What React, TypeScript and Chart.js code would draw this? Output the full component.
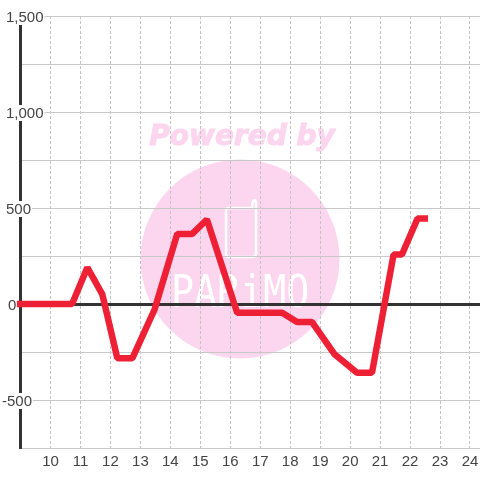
import React, { useEffect, useRef } from "react";
import { Chart, registerables } from "chart.js";

Chart.register(...registerables);

const hours = [8.88, 10.72, 11.23, 11.73, 12.23, 12.73, 13.47, 14.23, 14.73, 15.22, 16.23, 17.73, 18.23, 18.73, 19.47, 20.23, 20.73, 21.45, 21.73, 22.25, 22.6];
const values = [0, 0, 190, 50, -283, -283, -30, 365, 365, 440, -45, -45, -94, -94, -260, -358, -358, 258, 258, 445, 445];
const yTickValues = [1500, 1000, 500, 0, -500];
const xTickFirst = 10;
const seriesName = "Balance";
const watermarkTitle = "Powered by";
const watermarkBrand = "PARiMO";

const watermark = {
  id: "watermark",
  beforeDraw(chart: any) {
    const c = chart.ctx;
    c.save();
    c.fillStyle = "#ffffff";
    c.fillRect(0, 0, 480, 480);
    c.fillStyle = "#fcd5ee";
    c.beginPath();
    c.arc(240, 259, 99.5, 0, Math.PI * 2);
    c.fill();
    c.font = "italic bold 28px 'DejaVu Sans'";
    c.textAlign = "center";
    c.textBaseline = "alphabetic";
    c.strokeStyle = "#fcd5ee";
    c.lineWidth = 1;
    c.fillText(watermarkTitle, 242, 145);
    c.strokeText(watermarkTitle, 242, 145);
    c.strokeStyle = "#ffffff";
    c.lineWidth = 2.5;
    c.lineJoin = "round";
    c.beginPath();
    c.moveTo(252, 208);
    c.lineTo(253, 201);
    c.quadraticCurveTo(255, 199, 256, 202);
    c.lineTo(256, 254);
    c.quadraticCurveTo(256, 257, 253, 257);
    c.lineTo(229, 257);
    c.quadraticCurveTo(226, 257, 226, 254);
    c.lineTo(226, 211);
    c.quadraticCurveTo(226, 208, 229, 208);
    c.lineTo(252, 208);
    c.stroke();
    c.fillStyle = "#ffffff";
    c.font = "44px 'DejaVu Sans Mono'";
    c.textAlign = "left";
    c.translate(171, 307);
    c.scale(0.87, 1);
    c.fillText(watermarkBrand, 0, 0);
    c.restore();
  },
};

const labelShift = (label: string) => (label === "-500" ? -4 : label === "0" ? 2 : 0);

export default function App() {
  const ref = useRef<HTMLCanvasElement>(null);
  useEffect(() => {
    const chart = new Chart(ref.current as HTMLCanvasElement, {
      type: "line",
      data: {
        datasets: [
          {
            label: seriesName,
            data: hours.map((h, i) => ({ x: h, y: values[i] })),
            borderColor: "#ee2035",
            borderWidth: 6.5,
            pointRadius: 0,
            tension: 0,
            clip: false as any,
            borderCapStyle: "butt",
            borderJoinStyle: "bevel",
          },
        ],
      },
      options: {
        animation: false,
        responsive: false,
        devicePixelRatio: 1,
        layout: { padding: { top: 16, left: 0, right: 0, bottom: 0 } },
        plugins: { legend: { display: false }, tooltip: { enabled: false }, title: { display: false } },
        scales: {
          x: {
            type: "linear",
            min: 8.982,
            max: 24.334,
            afterFit: (s: any) => {
              s.height = 32;
              s.paddingLeft = 0;
              s.paddingRight = 0;
            },
            afterBuildTicks: (s: any) => { s.ticks = s.ticks.filter((t: any) => t.value >= xTickFirst); },
            border: { display: false, dash: [3, 2] },
            grid: { color: "#c4c4c4", lineWidth: 1, drawTicks: false },
            ticks: {
              stepSize: 1,
              includeBounds: false,
              autoSkip: false,
              maxRotation: 0,
              padding: 5,
              color: "#444444",
              font: { family: "'Liberation Sans'", size: 15 },
            },
          },
          y: {
            type: "linear",
            min: -750,
            max: 1500,
            afterFit: (s: any) => {
              s.width = 20;
              s.paddingTop = 0;
              s.paddingBottom = 0;
            },
            afterUpdate: (s: any) => {
              const orig = s.getLabelItems.bind(s);
              s.getLabelItems = (area: any) =>
                orig(area).map((it: any) => {
                  const o = it.options;
                  const x = 6 + labelShift(it.label);
                  const y = o.translation[1] + 1;
                  const ctx = s.ctx;
                  ctx.save();
                  ctx.font = it.font.string;
                  const w = ctx.measureText(it.label).width;
                  ctx.restore();
                  return {
                    ...it,
                    options: {
                      ...o,
                      translation: [x, y],
                      backdrop: o.backdrop
                        ? { ...o.backdrop, left: -2, top: -9, width: w + 3, height: 16 }
                        : o.backdrop,
                    },
                  };
                });
            },
            border: { display: true, color: "#333333", width: 3 },
            grid: {
              drawTicks: false,
              color: (ctx: any) => (ctx.tick.value === 0 ? "#333333" : "#c8c8c8"),
              lineWidth: (ctx: any) => (ctx.tick.value === 0 ? 3 : 1),
            },
            ticks: {
              stepSize: 250,
              mirror: true,
              padding: -14,
              crossAlign: "near",
              autoSkip: false,
              color: "#444444",
              font: { family: "'Liberation Sans'", size: 15 },
              showLabelBackdrop: (ctx: any) => yTickValues.includes(ctx.tick.value),
              backdropColor: "#ffffff",
              backdropPadding: { top: 0, bottom: 0, left: 2, right: 2 },
              callback: (v: any) => (yTickValues.includes(v) ? Number(v).toLocaleString("en-US") : ""),
            },
          },
        },
      },
      plugins: [watermark],
    } as any);
    return () => chart.destroy();
  }, []);
  return (
    <div style={{ position: "absolute", left: 0, top: 0, width: 480, height: 480 }}>
      <canvas ref={ref} width={480} height={480} style={{ display: "block" }} />
    </div>
  );
}
